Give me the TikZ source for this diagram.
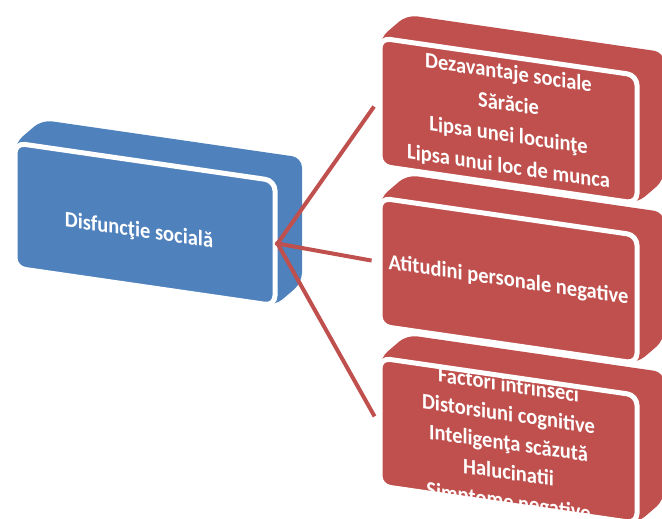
\documentclass[tikz,border=0pt]{standalone}
\usepackage{fontspec}
\setmainfont{Carlito}
\definecolor{smblue}{HTML}{4F81BD}
\definecolor{smred}{HTML}{C0504D}
\tikzset{
  face/.style={draw=white, line width=5pt, rounded corners=10pt,
    transform shape, inner sep=0pt},
  texte/.style={text=white, font=\fontsize{20.5}{29}\selectfont\bfseries,
    align=center, transform shape, yscale=1.08, inner sep=0pt},
  volume/.style={rounded corners=10pt},
  lien/.style={smred, line width=4pt, shorten >=6pt, shorten <=-2pt},
}
\begin{document}
\begin{tikzpicture}[x=1pt,y=-1pt]
\useasboundingbox (0,0) rectangle (662,519);
\clip (0,0) rectangle (662,519);
% bloc rouge du bas
\begin{scope}[shift={(380,358)},yslant=-0.145]
\fill[smred,volume] (0,0)--(27,-27)--(284,-27)--(284,101)--(257,128)--(0,128)--cycle; % profondeur
\node[face,fill=smred,minimum width=257pt,minimum height=128pt] (intr) at (128.5,64) {};
\node[texte,font=\fontsize{20.5}{27}\selectfont\bfseries] (intrtxt) at ([yshift=-4pt]intr.center) {Factori intrinseci\\Distorsiuni cognitive\\Inteligenţa scăzută\\Halucinatii\\Simptome negative};
\end{scope}
% bloc rouge du milieu
\begin{scope}[shift={(380,198)},yslant=-0.145]
\fill[smred,volume] (0,0)--(27,-27)--(284,-27)--(284,101)--(257,128)--(0,128)--cycle; % profondeur
\node[face,fill=smred,minimum width=257pt,minimum height=128pt] (atit) at (128.5,64) {};
\node[texte] (atittxt) at (atit.center) {Atitudini personale negative};
\end{scope}
% bloc rouge du haut
\begin{scope}[shift={(380,38)},yslant=-0.145]
\fill[smred,volume] (0,0)--(27,-27)--(284,-27)--(284,101)--(257,128)--(0,128)--cycle; % profondeur
\node[face,fill=smred,minimum width=257pt,minimum height=128pt] (dez) at (128.5,64) {};
\node[texte] (deztxt) at (dez.center) {Dezavantaje sociale\\Sărăcie\\Lipsa unei locuinţe\\Lipsa unui loc de munca};
\end{scope}
% bloc bleu
\begin{scope}[shift={(15,143)},yslant=-0.145]
\fill[smblue,volume] (0,0)--(27,-27)--(287,-27)--(287,98)--(260,125)--(0,125)--cycle; % profondeur
\node[face,fill=smblue,minimum width=260pt,minimum height=125pt] (disf) at (130,62.5) {};
\node[texte] (disftxt) at ([xshift=-6pt,yshift=-8pt]disf.center) {Disfuncţie socială};
\end{scope}
% liens
\draw[lien] (disf.east) -- (dez.west);
\draw[lien] (disf.east) -- (atit.west);
\draw[lien] (disf.east) -- (intr.west);
\end{tikzpicture}
\end{document}
